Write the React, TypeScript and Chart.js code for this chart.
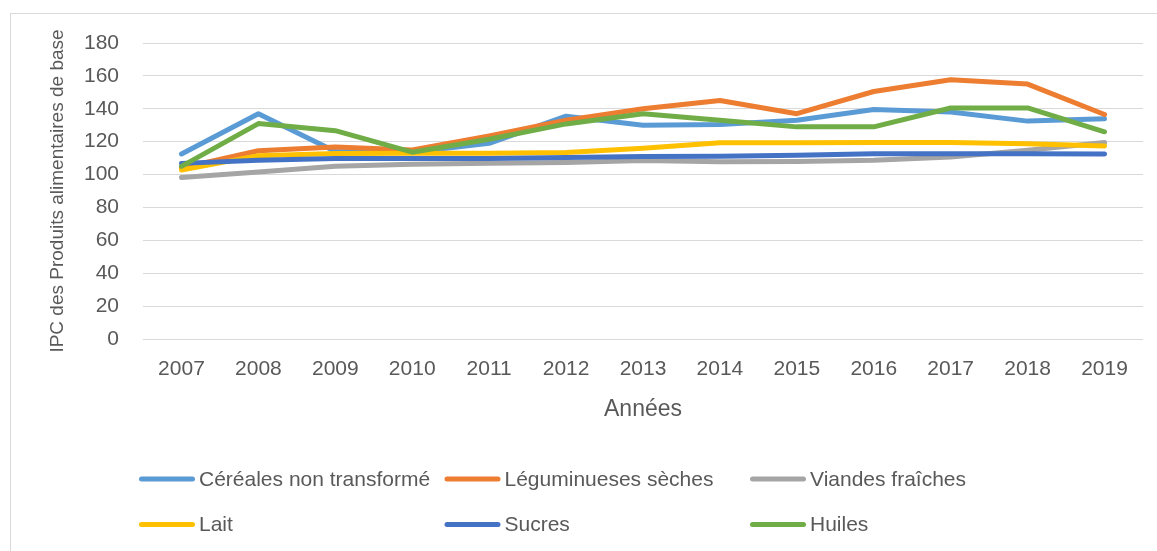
import React, { useEffect, useRef } from "react";
import { Chart, registerables } from "chart.js";

Chart.register(...registerables);

const years = ["2007", "2008", "2009", "2010", "2011", "2012", "2013", "2014", "2015", "2016", "2017", "2018", "2019"];
const cereales = [112.5, 137, 114, 113.5, 119, 135.5, 130, 130.5, 133, 139.5, 138, 132.5, 134];
const legumineuses = [104, 114.5, 116.8, 115, 123.5, 133, 140, 145, 137, 150.5, 157.7, 155, 136.5];
const viandes = [98.2, 101.6, 105, 106.3, 106.8, 107.3, 108.5, 107.8, 108, 108.7, 110.7, 114.8, 119.5];
const lait = [102.8, 111.5, 112.8, 113, 113, 113.4, 116, 119.4, 119.4, 119.5, 119.5, 118.8, 117.4];
const sucres = [106.8, 108.7, 109.7, 109.7, 109.8, 110.3, 111, 111.1, 111.7, 112.7, 112.7, 112.7, 112.5];
const huiles = [105, 131, 126.7, 113.6, 121.5, 130.8, 137, 133, 129, 129, 140.5, 140.5, 126];

const seriesNames = ["Céréales non transformé", "Léguminueses sèches", "Viandes fraîches", "Lait", "Sucres", "Huiles"];
const seriesValues = [cereales, legumineuses, viandes, lait, sucres, huiles];
const seriesColors = ["#5B9BD5", "#ED7D31", "#A5A5A5", "#FFC000", "#4472C4", "#70AD47"];

const yTitle = "IPC des Produits alimentaires de base";
const xTitle = "Années";

const FONT = "'Liberation Sans', Arial, sans-serif";
const TEXT = "#595959";
const GRID = "#d9d9d9";

const framePlugin = {
  id: "frame",
  beforeDraw(chart: any) {
    const ctx = chart.ctx;
    ctx.save();
    ctx.fillStyle = "#ffffff";
    ctx.fillRect(0, 0, chart.width, chart.height);
    ctx.strokeStyle = GRID;
    ctx.lineWidth = 1;
    ctx.strokeRect(10.5, 13.5, chart.width + 20, chart.height + 20);
    ctx.restore();
  },
};

const gridLegendPlugin = {
  id: "gridLegend",
  afterDraw(chart: any) {
    const ctx = chart.ctx;
    ctx.save();
    chart.data.datasets.forEach((ds: any, i: number) => {
      const col = i % 3;
      const row = Math.floor(i / 3);
      const x = 139 + col * 305.5;
      const y = 479 + row * 45.5;
      ctx.strokeStyle = ds.borderColor;
      ctx.lineWidth = 5;
      ctx.lineCap = "round";
      ctx.beginPath();
      ctx.moveTo(x + 2.5, y);
      ctx.lineTo(x + 53.5, y);
      ctx.stroke();
      ctx.fillStyle = TEXT;
      ctx.font = `21px ${FONT}`;
      ctx.textBaseline = "middle";
      ctx.textAlign = "left";
      ctx.fillText(ds.label, x + 60, y + 1);
    });
    ctx.restore();
  },
};

export default function App() {
  const ref = useRef<HTMLCanvasElement | null>(null);
  useEffect(() => {
    if (!ref.current) return;
    const chart = new Chart(ref.current, {
      type: "line",
      data: {
        labels: years,
        datasets: seriesNames.map((name, i) => ({
          label: name,
          data: seriesValues[i],
          borderColor: seriesColors[i],
          backgroundColor: seriesColors[i],
          borderWidth: 5,
          pointRadius: 0,
          pointHoverRadius: 0,
          tension: 0,
          borderCapStyle: "round" as const,
          borderJoinStyle: "round" as const,
          order: seriesNames.length - i,
        })),
      },
      options: {
        animation: false,
        responsive: false,
        devicePixelRatio: 1,
        layout: { padding: { top: 43, right: 14, left: 0, bottom: 112 } },
        plugins: {
          legend: { display: false },
          tooltip: { enabled: false },
        },
        scales: {
          x: {
            offset: true,
            grid: { display: false, drawTicks: false },
            border: { display: false },
            ticks: { color: TEXT, font: { family: FONT, size: 21 }, padding: 18, maxRotation: 0 },
            title: {
              display: true,
              text: xTitle,
              color: TEXT,
              font: { family: FONT, size: 23 },
              padding: { top: 0, bottom: 16 },
            },
            afterFit: (s: any) => {
              s.height = 100;
            },
          },
          y: {
            min: 0,
            max: 180,
            ticks: { stepSize: 20, color: TEXT, font: { family: FONT, size: 21 }, padding: 24 },
            grid: { color: GRID, lineWidth: 1, drawTicks: false },
            border: { display: false },
            title: {
              display: true,
              text: yTitle,
              color: TEXT,
              font: { family: FONT, size: 19 },
              padding: { top: 46, bottom: 0 },
            },
            afterFit: (s: any) => {
              s.width = 143;
            },
          },
        },
      },
      plugins: [framePlugin, gridLegendPlugin],
    });
    return () => chart.destroy();
  }, []);
  return (
    <div style={{ position: "fixed", left: 0, top: 0, width: 1157, height: 551, background: "#fff" }}>
      <canvas ref={ref} width={1157} height={551} style={{ display: "block" }} />
    </div>
  );
}
